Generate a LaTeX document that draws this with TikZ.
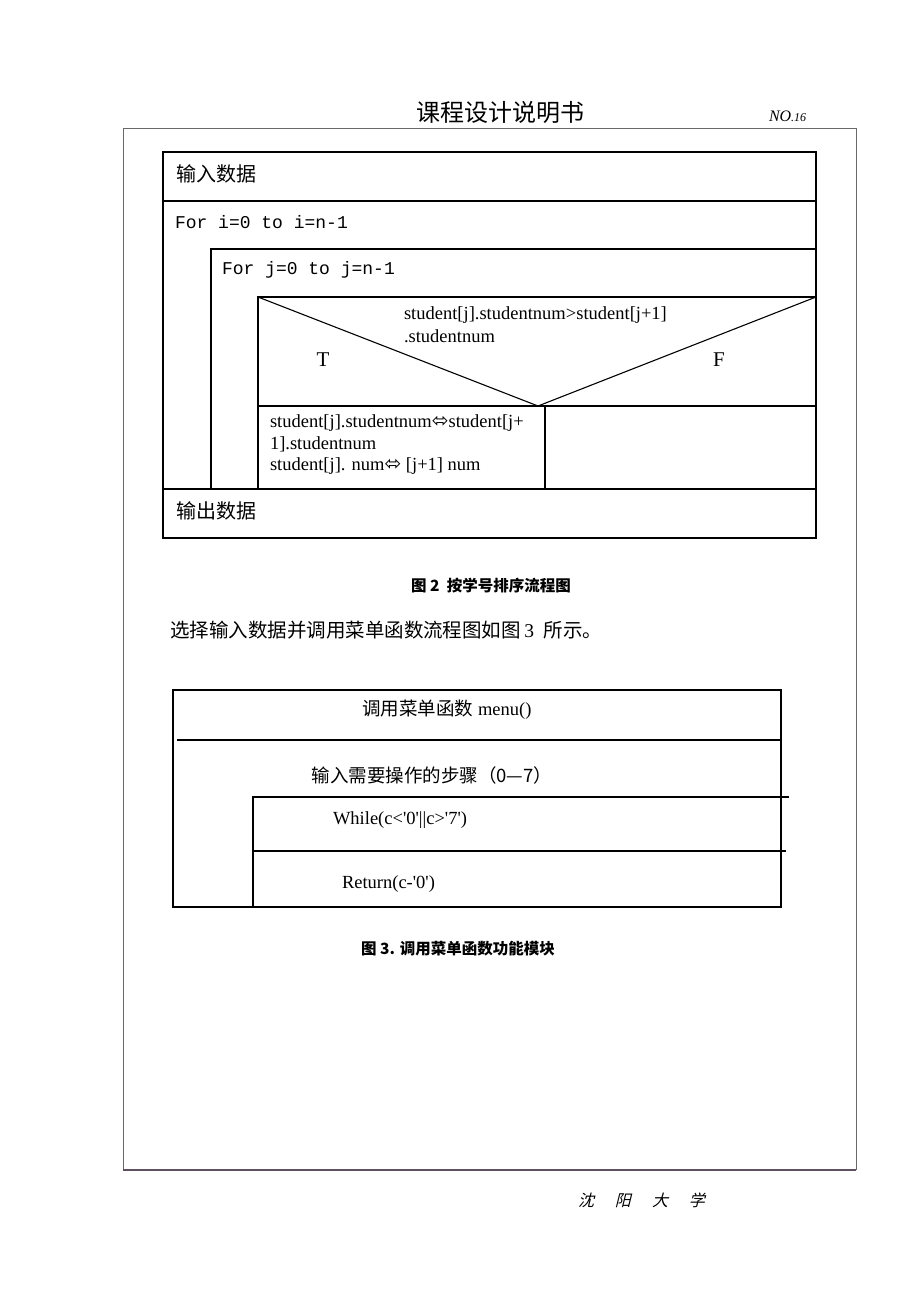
\documentclass[tikz,border=0pt]{standalone}
\usepackage{fontspec}
\setmainfont{Liberation Serif}
\setmonofont{Liberation Mono}
\newfontfamily\cjk{Noto Sans CJK SC}
\newfontfamily\cjkschraeg[FakeSlant=0.25]{Noto Sans CJK SC}
\newfontfamily\sym{DejaVu Sans}
\newcommand{\hk}{\textquotesingle}
\newcommand{\pfeil}{{\sym\fontsize{20}{20}\selectfont ⬄}}
\definecolor{rahmen}{RGB}{105,105,105}
\definecolor{fuss}{RGB}{95,80,95}
\tikzset{
	box/.style={line width=1.1pt, draw=black},
	txt/.style={anchor=west, inner sep=0pt, outer sep=0pt},
	mtxt/.style={inner sep=0pt, outer sep=0pt},
}
\begin{document}
\begin{tikzpicture}[x=1pt, y=-1pt]
	\useasboundingbox (0,0) rectangle (920,1302);
	% Kopfzeile
	\node[mtxt] (titel) at (500,112) {\fontsize{24}{24}\cjk 课程设计说明书};
	\node[txt] (seite) at (769,116) {\itshape\fontsize{16}{16}\selectfont NO\fontsize{12}{12}\selectfont .16};
	% Seitenrahmen
	\draw[line width=1pt, draw=rahmen] (123,1170) -- (123,128) -- (856,128) -- (856,1170);
	\draw[line width=1.2pt, draw=fuss] (123,1170) -- (856,1170);
	\node[txt] (schule) at (578,1200) {\fontsize{16}{16}\cjkschraeg 沈\hspace{21pt}阳\hspace{21pt}大\hspace{21pt}学};

	% Bild 2: aeusserer Rahmen
	\draw[box] (163,152) rectangle (816,538);
	\draw[box] (163,201) -- (816,201);
	\node[txt] (eingabe) at (176,174) {\fontsize{20}{20}\cjk 输入数据};
	\node[txt] (fori) at (175,222) {\fontsize{18}{18}\ttfamily For i=0 to i=n-1};
	% innere Schleife
	\draw[box] (211,489) -- (211,249) -- (816,249);
	\node[txt] (forj) at (222,270) {\fontsize{18}{18}\ttfamily For j=0 to j=n-1};
	% Verzweigung
	\draw[box] (258,489) -- (258,297) -- (816,297);
	\coordinate (spitze) at (538,406);
	\draw[box] (258,297) -- (spitze) -- (816,297);
	\draw[box] (258,406) -- (816,406);
	\draw[box] (545,406) -- (545,489);
	\node[txt] (bed1) at (404,315) {\fontsize{18.5}{18.5}\selectfont student[j].studentnum>student[j+1]};
	\node[txt] (bed2) at (404,336) {\fontsize{18.5}{18.5}\selectfont .studentnum};
	\node[mtxt] (wahr) at (323,360) {\fontsize{21}{21}\selectfont T};
	\node[mtxt] (falsch) at (719,360) {\fontsize{21}{21}\selectfont F};
	\node[txt] (tausch1) at (270,423) {\fontsize{18.5}{18.5}\selectfont student[j].studentnum\pfeil student[j+};
	\node[txt] (tausch2) at (270,444) {\fontsize{18.5}{18.5}\selectfont 1].studentnum};
	\node[txt] (tausch3) at (270,466) {\fontsize{18.5}{18.5}\selectfont student[j]. num\pfeil\ [j+1] num};
	% Ausgabe
	\draw[box] (163,489) -- (816,489);
	\node[txt] (ausgabe) at (176,511) {\fontsize{20}{20}\cjk 输出数据};
	\node[mtxt] (bild2) at (491,586) {\fontsize{15.5}{15.5}\cjk\bfseries 图 2\ \ 按学号排序流程图};

	% Text
	\node[txt] (absatz) at (170,630) {\fontsize{19.5}{19.5}\selectfont {\cjk 选择输入数据并调用菜单函数流程图如图}\,3\ \ {\cjk 所示。}};

	% Bild 3
	\draw[box] (173,690) rectangle (781,907);
	\draw[box] (177,740) -- (781,740);
	\node[mtxt] (menu) at (447,710) {\fontsize{18.5}{18.5}\selectfont {\cjk 调用菜单函数} menu()};
	\node[mtxt] (schritt) at (432,775) {\fontsize{18.5}{18.5}\cjk 输入需要操作的步骤（0—7）};
	\draw[box] (253,907) -- (253,797) -- (789,797);
	\draw[box] (253,851) -- (786,851);
	\node[txt] (solange) at (333,820) {\fontsize{18.5}{18.5}\selectfont While(c<\hk 0\hk||c>\hk 7\hk)};
	\node[txt] (zurueck) at (342,884) {\fontsize{18.5}{18.5}\selectfont Return(c-\hk 0\hk)};
	\node[mtxt] (bild3) at (458,949) {\fontsize{15.5}{15.5}\cjk\bfseries 图 3. 调用菜单函数功能模块};
\end{tikzpicture}
\end{document}
